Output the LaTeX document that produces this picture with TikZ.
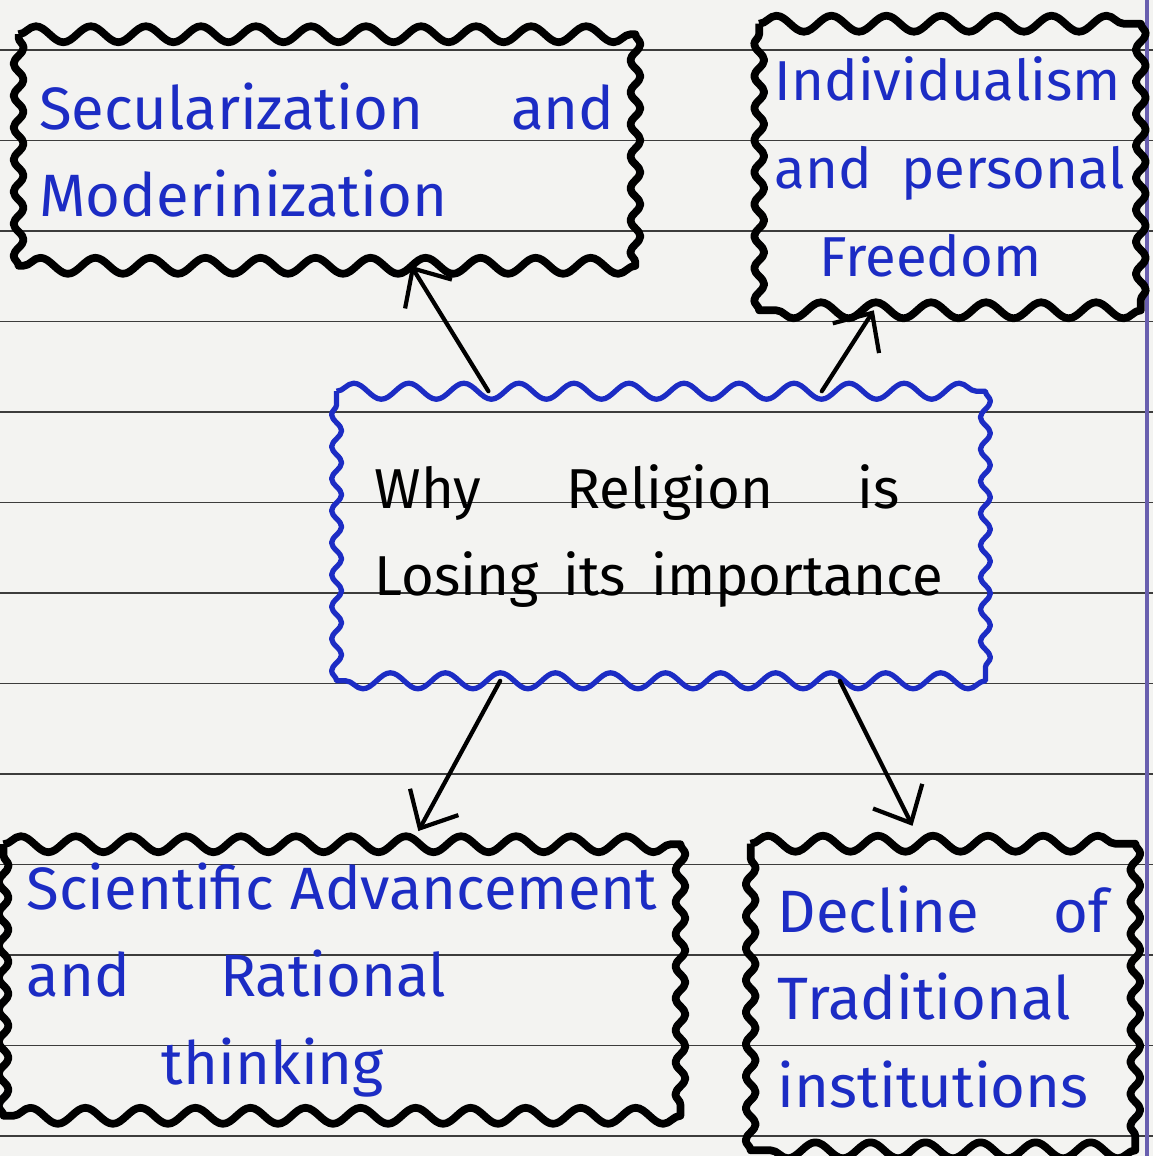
\documentclass[tikz,border=0pt]{standalone}
\usepackage{fontspec}
\setmainfont{Fira Sans}
\usetikzlibrary{decorations.pathmorphing,arrows.meta}
\definecolor{inkblue}{RGB}{28,44,196}
\definecolor{paper}{RGB}{243,243,241}
\definecolor{rulegray}{RGB}{60,60,60}
\definecolor{margin}{RGB}{105,95,175}
% wavy hand-drawn frame round a node: big waves on top and bottom, small ones on the sides
\newcommand{\wavyframe}[2]{%
  \draw[#1] (#2.north west)
    decorate[decoration={snake, segment length=5.5mm, amplitude=0.8mm}] {-- (#2.north east)}
    decorate[decoration={snake, segment length=3.2mm, amplitude=0.5mm}] {-- (#2.south east)}
    decorate[decoration={snake, segment length=5.5mm, amplitude=0.8mm}] {-- (#2.south west)}
    decorate[decoration={snake, segment length=3.2mm, amplitude=0.5mm}] {-- (#2.north west)};}

\begin{document}
\begin{tikzpicture}[x=0.01cm, y=0.01cm,
textbox/.style={text=inkblue, align=left, inner sep=0pt, font=\fontsize{17}{25}\selectfont},
corebox/.style={textbox, text=black, font=\fontsize{16}{25}\selectfont},
blackframe/.style={draw=black, line width=2.2pt, line join=round},
blueframe/.style={draw=inkblue, line width=1.5pt, line join=round},
link/.style={-{Straight Barb[length=3mm,width=5.5mm]}, line width=1.2pt, line cap=round},
]
\fill[paper] (0,0) rectangle (1153,-1156);
\useasboundingbox (0,0) rectangle (1153,-1156);
%Paper
\foreach \k in {0,...,12}
  \draw[rulegray, line width=0.5pt] (0,-50-90.5*\k) -- (1153,-50-90.5*\k);
\draw[margin, line width=1pt] (1147,0) -- (1147,-1156);

%Nodes
\node[textbox, minimum width=6.15cm, minimum height=2.3cm, text width=5.75cm]  (sec)   at (327,-150) {Secularization\hfill and\\Moderinization};
\node[textbox, minimum width=3.8cm, minimum height=2.85cm, text width=3.5cm, font=\fontsize{16}{25}\selectfont] (indiv) at (950,-167) {Individualism\\and\hfill personal\\\hspace*{0.45cm}Freedom};
\node[corebox, minimum width=6.47cm, minimum height=2.88cm, text width=5.72cm] (core)  at (661,-536) {\makebox[5.25cm][l]{Why\hfill Religion\hfill is}\\\mbox{Losing\hspace{0.25cm}its\hspace{0.25cm}importance}};
\node[textbox, minimum width=6.75cm, minimum height=2.7cm, text width=6.3cm]   (sci)   at (342,-980) {Scientific\hfill Advancement\\and\hspace{0.9cm}Rational\\\hspace*{1.35cm}thinking};
\node[textbox, minimum width=3.83cm, minimum height=3.05cm, text width=3.3cm]  (decl)  at (943,-997) {Decline\hfill of\\Traditional\\institutions};

%Frames
\wavyframe{blackframe}{sec}
\wavyframe{blackframe}{indiv}
\wavyframe{blueframe}{core}
\wavyframe{blackframe}{sci}
\wavyframe{blackframe}{decl}

%Lines
\draw[link] (core.140) -- (sec.-54);
\draw[link] (core.42) -- (indiv.-118);
\draw[link, shorten >=0.15cm] (core.-138) -- (sci.63);
\draw[link, shorten >=0.2cm] (core.-39) -- (decl.98);

\end{tikzpicture}
\end{document}
